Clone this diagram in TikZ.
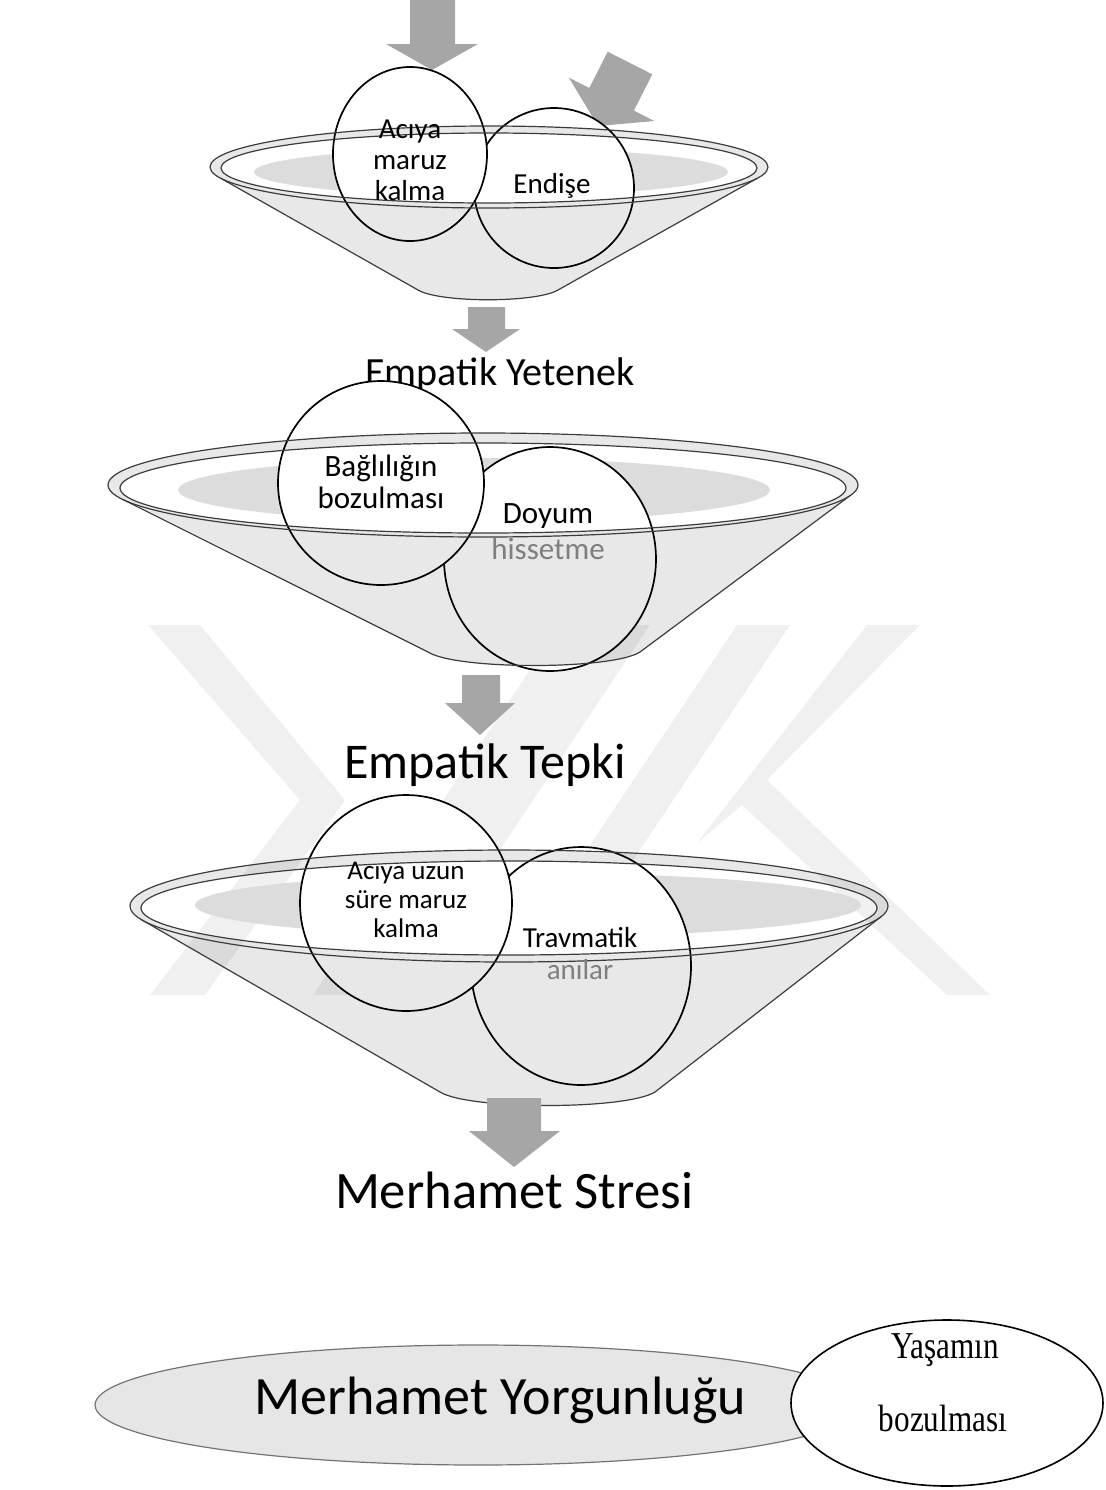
\documentclass[tikz,border=0pt]{standalone}
\usepackage{fontspec}
\setmainfont{Carlito}
\newfontfamily\timesfont[FakeStretch=0.82]{Liberation Serif}
\usetikzlibrary{shapes.geometric}
\definecolor{arrowc}{HTML}{A6A6A6}
\definecolor{wmc}{HTML}{F0F0F0}
\definecolor{shadowc}{HTML}{DCDCDC}
\definecolor{linec}{HTML}{3C3C3C}
\definecolor{ellc}{HTML}{E6E6E6}
\definecolor{graytxt}{HTML}{7F7F7F}
\begin{document}
\begin{tikzpicture}[x=0.5pt,y=-0.5pt,
  circ/.style={ellipse, draw=black, line width=0.85pt, fill=white, inner sep=0pt},
  lbl/.style={font=\fontsize{14.5}{15.5}\selectfont, align=center, inner sep=0pt},
  lblb/.style={font=\fontsize{15.5}{16}\selectfont, align=center, inner sep=0pt},
  ovl/.style={fill=black, fill opacity=0.09, even odd rule},
  rim/.style={draw=linec, line width=0.6pt},
  barrow/.style={fill=arrowc},
  shadowfill/.style={fill=shadowc},
  wm/.style={fill=wmc}]
\useasboundingbox (0,0) rectangle (1105,1490);

% ---------- watermark ----------
\fill[wm] (148,625) -- (200,625) -- (345,800) -- (205,995) -- (150,995) -- (300,800) -- cycle;
\fill[wm] (560,625) -- (650,625) -- (403,995) -- (313,995) -- cycle;
\fill[wm] (737,625) -- (790,625) -- (543,995) -- (490,995) -- cycle;
\fill[wm] (867,625) -- (920,625) -- (767,780) -- (990,995) -- (947,995) -- (742,805) -- (697,843) -- cycle;

% ---------- top arrows ----------
\fill[barrow] (410,0) -- (455,0) -- (455,44) -- (478,44) -- (432,70) -- (386,44) -- (410,44) -- cycle;
\fill[barrow] (607.7,51.7) -- (652.3,74.3) -- (633.9,110.6) -- (654.4,121.0) -- (598,126) -- (568.8,77.6) -- (589.3,88.0) -- cycle;

% ---------- funnel 1 ----------
\fill[shadowfill] (491,172) ellipse[x radius=237, y radius=24];
\node[circ, minimum width=80pt, minimum height=80pt] (f1b) at (554,188) {};
\node[circ, minimum width=77pt, minimum height=87pt] (f1a) at (410,154) {};
\coordinate (f1L) at ([shift={(489,167)}]164:279 and 41);
\coordinate (f1R) at ([shift={(489,167)}]16:279 and 41);
\coordinate (f1BL) at (418,290);
\coordinate (f1BR) at (558,290);
\fill[ovl] (f1L) arc[start angle=164, end angle=376, x radius=279, y radius=41] -- (f1BR) .. controls (536,303) and (440,303) .. (f1BL) -- cycle (489,168) ellipse[x radius=268, y radius=35];
\draw[rim] (489,167) ellipse[x radius=279, y radius=41];
\draw[rim] (489,168) ellipse[x radius=268, y radius=35];
\draw[rim] (f1L) -- (f1BL) .. controls (440,303) and (536,303) .. (f1BR) -- (f1R);
\node[lbl] (f1at) at (410,160) {Acıya\\maruz\\kalma};
\node[lbl] (f1bt) at (552,186) {Endişe};

% arrow 1 -> Empatik Yetenek
\fill[barrow] (468,307) -- (505,307) -- (505,329) -- (520,329) -- (486,352) -- (452,329) -- (468,329) -- cycle;
\node[inner sep=0pt, font=\fontsize{20}{24}\selectfont] (t1) at (500,375) {Empatik Yetenek};

% ---------- funnel 2 ----------
\fill[shadowfill] (474,490) ellipse[x radius=296, y radius=32];
\node[circ, minimum width=106pt, minimum height=112pt] (f2b) at (550,559) {};
\node[circ, minimum width=103pt, minimum height=102pt] (f2a) at (381,483) {};
\coordinate (f2L) at ([shift={(483,485)}]164:375 and 52);
\coordinate (f2R) at ([shift={(483,485)}]12:375 and 52);
\coordinate (f2BL) at (428,652);
\coordinate (f2BR) at (640,652);
\fill[ovl] (f2L) arc[start angle=164, end angle=372, x radius=375, y radius=52] -- (f2BR) .. controls (612,670) and (456,670) .. (f2BL) -- cycle (483,488) ellipse[x radius=363, y radius=45];
\draw[rim] (483,485) ellipse[x radius=375, y radius=52];
\draw[rim] (483,488) ellipse[x radius=363, y radius=45];
\draw[rim] (f2L) -- (f2BL) .. controls (456,670) and (612,670) .. (f2BR) -- (f2R);
\node[lblb] (f2at) at (381,482) {Bağlılığın\\bozulması};
\node[lblb] (f2bt) at (548,516) {Doyum};
\node[lblb, text=graytxt] (f2bt2) at (548,549) {hissetme};

% arrow 2 -> Empatik Tepki
\fill[barrow] (462,675) -- (500,675) -- (500,703) -- (515,703) -- (480,735) -- (445,703) -- (462,703) -- cycle;
\node[inner sep=0pt, font=\fontsize{25}{30}\selectfont] (t2) at (485,765) {Empatik Tepki};

% ---------- funnel 3 ----------
\fill[shadowfill] (528,905) ellipse[x radius=333, y radius=32];
\node[circ, minimum width=110pt, minimum height=119pt] (f3b) at (581,966) {};
\node[circ, minimum width=106pt, minimum height=108pt] (f3a) at (406,903) {};
\coordinate (f3L) at ([shift={(509,906)}]166:379 and 56);
\coordinate (f3R) at ([shift={(509,906)}]11:379 and 56);
\coordinate (f3BL) at (440,1092);
\coordinate (f3BR) at (655,1092);
\fill[ovl] (f3L) arc[start angle=166, end angle=371, x radius=379, y radius=56] -- (f3BR) .. controls (626,1110) and (469,1110) .. (f3BL) -- cycle (509,908) ellipse[x radius=368, y radius=47];
\draw[rim] (509,906) ellipse[x radius=379, y radius=56];
\draw[rim] (509,908) ellipse[x radius=368, y radius=47];
\draw[rim] (f3L) -- (f3BL) .. controls (469,1110) and (626,1110) .. (f3BR) -- (f3R);
\node[lbl, font=\fontsize{13.5}{14.5}\selectfont] (f3at) at (406,900) {Acıya uzun\\süre maruz\\kalma};
\node[lbl, font=\fontsize{14.5}{16}\selectfont] (f3bt) at (580,938) {Travmatik};
\node[lbl, font=\fontsize{14.5}{16}\selectfont, text=graytxt] (f3bt2) at (580,970) {anılar};

% arrow 3 -> Merhamet Stresi
\fill[barrow] (487,1098) -- (541,1098) -- (541,1131) -- (560,1131) -- (514,1167) -- (469,1131) -- (487,1131) -- cycle;
\node[inner sep=0pt, font=\fontsize{26.3}{30}\selectfont] (t3) at (514,1190) {Merhamet Stresi};

% ---------- bottom ----------
\node[ellipse, draw=black!55, line width=0.6pt, fill=ellc, inner sep=0pt, minimum width=383pt, minimum height=60pt] (my) at (478,1405) {};
\node[inner sep=0pt, font=\fontsize{27}{30}\selectfont] (t4) at (500,1400) {Merhamet Yorgunluğu};
\node[ellipse, draw=black, line width=0.8pt, fill=white, inner sep=0pt, minimum width=156pt, minimum height=83pt] (yb) at (947,1403) {};
\node[inner sep=0pt, font=\timesfont\fontsize{19}{22}\selectfont] (yb1) at (945,1350) {Yaşamın};
\node[inner sep=0pt, font=\timesfont\fontsize{19}{22}\selectfont] (yb2) at (943,1418) {bozulması};
\end{tikzpicture}
\end{document}
